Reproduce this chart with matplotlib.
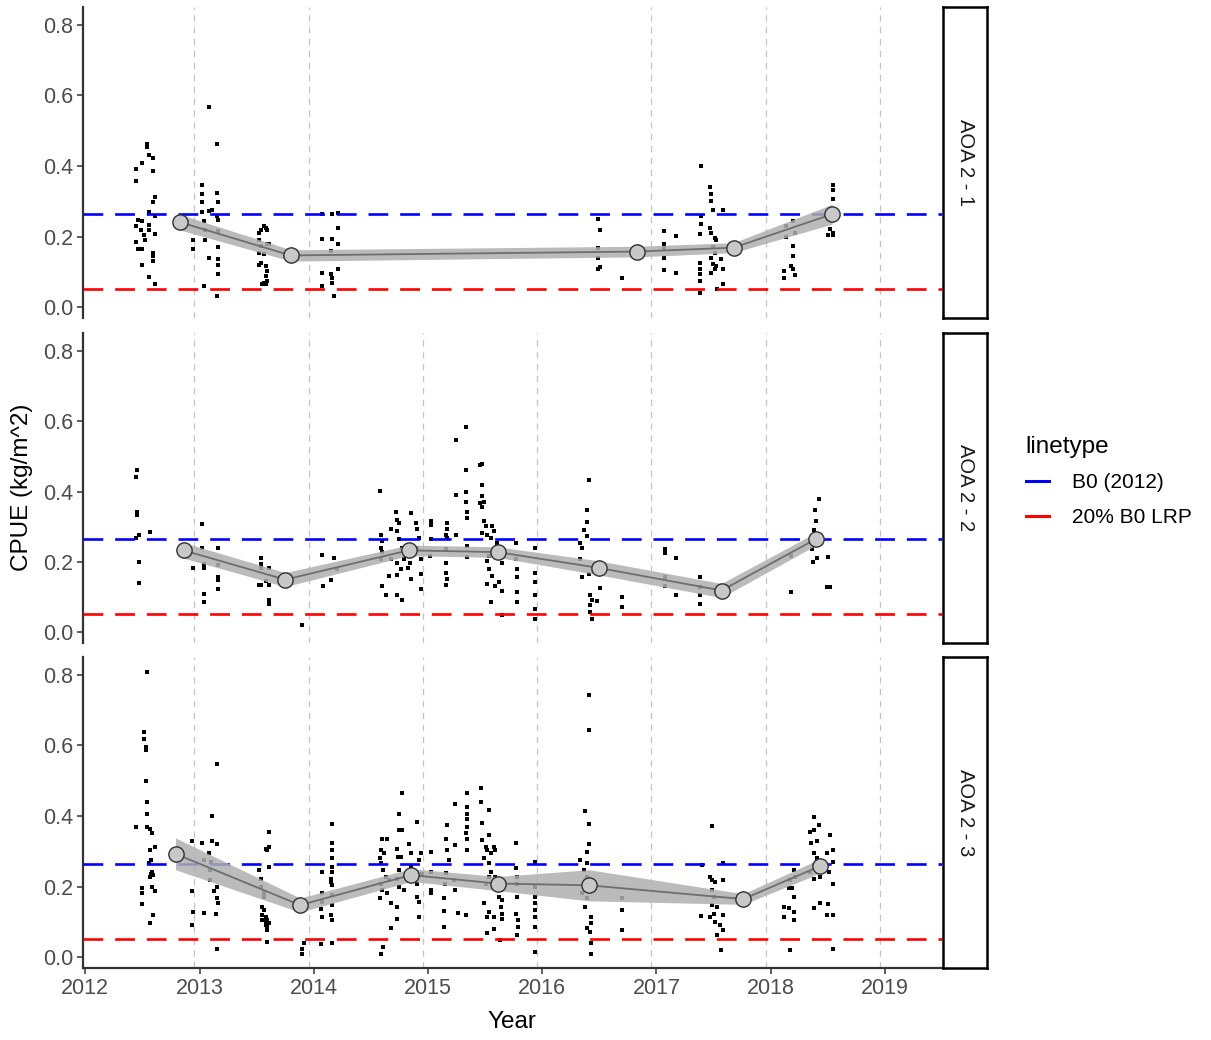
import matplotlib
matplotlib.use("Agg")
import matplotlib.pyplot as plt
from matplotlib.lines import Line2D
import numpy as np

plt.rcParams['font.family'] = ['Liberation Sans', 'DejaVu Sans']

# ---------------- data ----------------
facets = ["AOA 2 - 1", "AOA 2 - 2", "AOA 2 - 3"]
b0_value = 0.265
lrp_value = 0.053
legend_labels = ["B0 (2012)", "20% B0 LRP"]
legend_title = "linetype"
x_ticks = [2012, 2013, 2014, 2015, 2016, 2017, 2018, 2019]
y_ticks = [0.0, 0.2, 0.4, 0.6, 0.8]

# season boundaries (vertical dashed lines) per facet
vlines_21 = [2012.955, 2013.955, 2016.955, 2017.955, 2018.955]
vlines_22 = [2012.955, 2013.955, 2014.955, 2015.955, 2016.955, 2017.955, 2018.955]
vlines_23 = [2012.955, 2013.955, 2014.955, 2015.955, 2016.955, 2017.955, 2018.955]

# yearly means and ribbon half-widths
mean_x_21 = [2012.83, 2013.80, 2016.83, 2017.675, 2018.54]
mean_y_21 = [0.241, 0.147, 0.158, 0.169, 0.264]
se_21 = [0.022, 0.016, 0.015, 0.014, 0.028]

mean_x_22 = [2012.86, 2013.75, 2014.83, 2015.61, 2016.50, 2017.57, 2018.40]
mean_y_22 = [0.233, 0.150, 0.233, 0.228, 0.183, 0.119, 0.266]
se_22 = [0.022, 0.020, 0.015, 0.015, 0.020, 0.020, 0.018]

mean_x_23 = [2012.79, 2013.88, 2014.85, 2015.61, 2016.41, 2017.76, 2018.43]
mean_y_23 = [0.293, 0.148, 0.233, 0.209, 0.204, 0.165, 0.258]
se_23 = [0.045, 0.020, 0.018, 0.020, 0.044, 0.015, 0.020]

# raw CPUE observations: (date, [values])
obs_21 = [
    (2012.44, [0.392, 0.358, 0.230, 0.185]),
    (2012.46, [0.248, 0.164]),
    (2012.49, [0.220]),
    (2012.50, [0.408, 0.244, 0.164, 0.120]),
    (2012.515, [0.206]),
    (2012.52, [0.192]),
    (2012.54, [0.462, 0.455]),
    (2012.56, [0.431, 0.086, 0.220, 0.234, 0.270]),
    (2012.59, [0.422, 0.387, 0.298, 0.155, 0.145, 0.131]),
    (2012.61, [0.312, 0.258, 0.209, 0.066]),
    (2012.947, [0.192, 0.166]),
    (2013.025, [0.345, 0.321, 0.298, 0.270]),
    (2013.035, [0.244, 0.061]),
    (2013.045, [0.220, 0.192]),
    (2013.083, [0.566, 0.272, 0.141]),
    (2013.11, [0.275]),
    (2013.15, [0.462, 0.324, 0.033, 0.258]),
    (2013.16, [0.298, 0.248, 0.216, 0.172, 0.136, 0.120, 0.094]),
    (2013.52, [0.211, 0.192, 0.155, 0.120]),
    (2013.535, [0.220, 0.174, 0.127]),
    (2013.55, [0.066]),
    (2013.565, [0.230, 0.150, 0.070]),
    (2013.58, [0.225, 0.117, 0.089, 0.066]),
    (2013.594, [0.220, 0.178, 0.103, 0.075]),
    (2013.608, [0.178]),
    (2014.075, [0.263, 0.194, 0.096, 0.061]),
    (2014.148, [0.159, 0.094]),
    (2014.163, [0.194, 0.263, 0.084, 0.070]),
    (2014.177, [0.033]),
    (2014.21, [0.267, 0.225, 0.178, 0.110]),
    (2016.49, [0.250, 0.169, 0.141, 0.110]),
    (2016.51, [0.219, 0.113]),
    (2016.70, [0.082]),
    (2017.07, [0.216, 0.178, 0.169, 0.141, 0.106]),
    (2017.175, [0.202, 0.097]),
    (2017.378, [0.209, 0.127, 0.108, 0.094, 0.075, 0.042]),
    (2017.394, [0.399, 0.258, 0.237]),
    (2017.466, [0.342, 0.225]),
    (2017.478, [0.322, 0.300, 0.211, 0.141, 0.098]),
    (2017.494, [0.275, 0.172, 0.122]),
    (2017.51, [0.197, 0.155, 0.108]),
    (2017.525, [0.192, 0.117]),
    (2017.534, [0.052]),
    (2017.566, [0.138]),
    (2017.58, [0.275, 0.108, 0.066]),
    (2018.119, [0.103, 0.082]),
    (2018.135, [0.230, 0.200]),
    (2018.18, [0.117]),
    (2018.197, [0.244, 0.174, 0.145, 0.110]),
    (2018.21, [0.211, 0.091]),
    (2018.504, [0.272, 0.204]),
    (2018.52, [0.222]),
    (2018.548, [0.347, 0.331, 0.308, 0.253, 0.211, 0.206]),
]

obs_22 = [
    (2012.442, [0.442, 0.269]),
    (2012.457, [0.462, 0.341, 0.334]),
    (2012.47, [0.278, 0.200, 0.140]),
    (2012.567, [0.284]),
    (2012.947, [0.184]),
    (2013.025, [0.309, 0.240]),
    (2013.04, [0.194, 0.182, 0.109, 0.086]),
    (2013.162, [0.240, 0.191, 0.156, 0.150, 0.122]),
    (2013.52, [0.135]),
    (2013.535, [0.210, 0.184, 0.135, 0.194]),
    (2013.58, [0.147]),
    (2013.608, [0.182, 0.135, 0.091, 0.081]),
    (2013.90, [0.022]),
    (2014.075, [0.219]),
    (2014.083, [0.131]),
    (2014.148, [0.150]),
    (2014.177, [0.210]),
    (2014.206, [0.180]),
    (2014.579, [0.402]),
    (2014.585, [0.278, 0.240, 0.208]),
    (2014.60, [0.259, 0.228, 0.133]),
    (2014.629, [0.107]),
    (2014.658, [0.161]),
    (2014.673, [0.293, 0.208]),
    (2014.717, [0.341]),
    (2014.731, [0.320, 0.287, 0.198, 0.163, 0.107]),
    (2014.746, [0.311, 0.264]),
    (2014.76, [0.180]),
    (2014.775, [0.091, 0.240]),
    (2014.789, [0.208]),
    (2014.824, [0.184]),
    (2014.84, [0.198]),
    (2014.854, [0.339, 0.152]),
    (2014.892, [0.311]),
    (2014.906, [0.293, 0.240]),
    (2014.92, [0.269]),
    (2014.935, [0.208, 0.122]),
    (2014.941, [0.166]),
    (2015.02, [0.217]),
    (2015.023, [0.315, 0.306, 0.264]),
    (2015.154, [0.278, 0.236, 0.198, 0.170, 0.135]),
    (2015.169, [0.311, 0.293, 0.269, 0.152]),
    (2015.243, [0.546, 0.390, 0.278]),
    (2015.33, [0.584, 0.462, 0.400, 0.371]),
    (2015.344, [0.341, 0.325, 0.245, 0.215]),
    (2015.454, [0.474, 0.367]),
    (2015.475, [0.477, 0.418, 0.386, 0.357, 0.283]),
    (2015.49, [0.369, 0.315]),
    (2015.504, [0.301]),
    (2015.519, [0.278, 0.203, 0.138]),
    (2015.533, [0.180, 0.217]),
    (2015.548, [0.269, 0.086]),
    (2015.562, [0.301, 0.161]),
    (2015.577, [0.287, 0.231]),
    (2015.591, [0.133]),
    (2015.606, [0.254]),
    (2015.62, [0.142]),
    (2015.65, [0.198, 0.119, 0.049]),
    (2015.77, [0.254, 0.208]),
    (2015.776, [0.180]),
    (2015.78, [0.156, 0.114, 0.086]),
    (2015.935, [0.239, 0.170, 0.142, 0.105, 0.067, 0.039]),
    (2016.335, [0.254, 0.208]),
    (2016.35, [0.240, 0.156]),
    (2016.37, [0.292]),
    (2016.39, [0.313]),
    (2016.394, [0.348, 0.273]),
    (2016.408, [0.432, 0.166]),
    (2016.417, [0.105, 0.077, 0.058]),
    (2016.438, [0.091, 0.039]),
    (2016.48, [0.088]),
    (2016.504, [0.125]),
    (2016.70, [0.100, 0.072]),
    (2017.079, [0.236, 0.226, 0.156, 0.131]),
    (2017.175, [0.210, 0.107]),
    (2017.378, [0.156, 0.128, 0.105, 0.081]),
    (2018.178, [0.217, 0.116]),
    (2018.362, [0.236]),
    (2018.369, [0.269, 0.200]),
    (2018.376, [0.292]),
    (2018.391, [0.348]),
    (2018.40, [0.315]),
    (2018.405, [0.210]),
    (2018.42, [0.378, 0.254]),
    (2018.493, [0.128]),
    (2018.499, [0.215]),
    (2018.522, [0.128]),
]

obs_23 = [
    (2012.442, [0.369]),
    (2012.50, [0.195, 0.181, 0.151]),
    (2012.515, [0.638, 0.619]),
    (2012.529, [0.594, 0.588, 0.499]),
    (2012.544, [0.808, 0.440, 0.405, 0.369]),
    (2012.559, [0.266]),
    (2012.567, [0.363, 0.303, 0.228, 0.096]),
    (2012.573, [0.275, 0.237]),
    (2012.588, [0.351, 0.242, 0.200]),
    (2012.596, [0.233, 0.120]),
    (2012.608, [0.313, 0.188]),
    (2012.938, [0.330, 0.188, 0.091]),
    (2012.947, [0.129]),
    (2013.025, [0.324]),
    (2013.04, [0.275, 0.127]),
    (2013.083, [0.296]),
    (2013.09, [0.219, 0.247]),
    (2013.098, [0.270]),
    (2013.11, [0.400, 0.330]),
    (2013.127, [0.188]),
    (2013.142, [0.124]),
    (2013.15, [0.548, 0.322, 0.200, 0.167, 0.025]),
    (2013.162, [0.155]),
    (2013.52, [0.247]),
    (2013.535, [0.223, 0.200]),
    (2013.55, [0.143, 0.120, 0.106]),
    (2013.564, [0.181, 0.171, 0.134, 0.106]),
    (2013.58, [0.308, 0.115, 0.101, 0.091]),
    (2013.588, [0.077]),
    (2013.594, [0.305, 0.107, 0.087, 0.044]),
    (2013.608, [0.355, 0.311, 0.256, 0.096]),
    (2013.90, [0.025, 0.009]),
    (2013.914, [0.040]),
    (2014.066, [0.136, 0.038]),
    (2014.075, [0.242, 0.181, 0.157, 0.115]),
    (2014.148, [0.223, 0.214]),
    (2014.154, [0.120]),
    (2014.163, [0.377, 0.324, 0.303, 0.280, 0.256, 0.242, 0.204, 0.176, 0.148, 0.106, 0.040]),
    (2014.579, [0.280, 0.167]),
    (2014.585, [0.303, 0.266, 0.209]),
    (2014.59, [0.011]),
    (2014.60, [0.336, 0.190]),
    (2014.61, [0.247, 0.030]),
    (2014.614, [0.296]),
    (2014.629, [0.228]),
    (2014.644, [0.336, 0.181]),
    (2014.658, [0.219]),
    (2014.673, [0.153, 0.082]),
    (2014.731, [0.308, 0.223, 0.143, 0.110]),
    (2014.737, [0.285]),
    (2014.746, [0.405, 0.360, 0.247, 0.200]),
    (2014.76, [0.285]),
    (2014.775, [0.464, 0.360]),
    (2014.789, [0.190]),
    (2014.833, [0.322]),
    (2014.848, [0.294]),
    (2014.854, [0.256]),
    (2014.863, [0.219]),
    (2014.90, [0.383]),
    (2014.906, [0.209, 0.171]),
    (2014.92, [0.275, 0.157, 0.115]),
    (2014.935, [0.294]),
    (2014.95, [0.237]),
    (2015.023, [0.299, 0.242, 0.190, 0.181]),
    (2015.14, [0.167, 0.132, 0.087]),
    (2015.15, [0.209]),
    (2015.154, [0.334, 0.239]),
    (2015.169, [0.374, 0.303]),
    (2015.183, [0.277]),
    (2015.227, [0.219]),
    (2015.233, [0.433, 0.318]),
    (2015.24, [0.192]),
    (2015.262, [0.126]),
    (2015.33, [0.352, 0.120]),
    (2015.338, [0.464, 0.426, 0.369]),
    (2015.344, [0.407, 0.393, 0.334, 0.305]),
    (2015.466, [0.478, 0.440]),
    (2015.475, [0.381, 0.332]),
    (2015.49, [0.280, 0.153]),
    (2015.504, [0.313, 0.209]),
    (2015.519, [0.305, 0.115, 0.068]),
    (2015.533, [0.416, 0.346, 0.266, 0.228, 0.129]),
    (2015.548, [0.294, 0.242]),
    (2015.577, [0.313, 0.115, 0.079]),
    (2015.591, [0.305, 0.228, 0.198]),
    (2015.62, [0.171]),
    (2015.628, [0.049]),
    (2015.635, [0.190, 0.143]),
    (2015.65, [0.162, 0.124, 0.110]),
    (2015.77, [0.324, 0.252, 0.124]),
    (2015.776, [0.228, 0.171]),
    (2015.78, [0.209, 0.063]),
    (2015.785, [0.106, 0.087]),
    (2015.933, [0.270]),
    (2015.935, [0.153, 0.115, 0.087, 0.016]),
    (2015.941, [0.200, 0.171, 0.134]),
    (2016.335, [0.277]),
    (2016.35, [0.181]),
    (2016.364, [0.247]),
    (2016.379, [0.415, 0.143]),
    (2016.388, [0.266]),
    (2016.394, [0.299, 0.228, 0.167, 0.082]),
    (2016.408, [0.743, 0.643, 0.377, 0.322, 0.200]),
    (2016.417, [0.073]),
    (2016.423, [0.115]),
    (2016.43, [0.096, 0.040, 0.009]),
    (2016.70, [0.167, 0.134, 0.077]),
    (2017.39, [0.118]),
    (2017.40, [0.261]),
    (2017.466, [0.115]),
    (2017.472, [0.228]),
    (2017.487, [0.371, 0.219, 0.190, 0.148]),
    (2017.50, [0.124]),
    (2017.507, [0.171]),
    (2017.516, [0.214, 0.101]),
    (2017.53, [0.143, 0.063]),
    (2017.56, [0.091]),
    (2017.566, [0.021]),
    (2017.584, [0.266, 0.219, 0.120, 0.077]),
    (2018.114, [0.143, 0.115]),
    (2018.158, [0.195, 0.139]),
    (2018.172, [0.219, 0.021]),
    (2018.187, [0.195]),
    (2018.20, [0.247, 0.171, 0.129, 0.107]),
    (2018.216, [0.228]),
    (2018.348, [0.355, 0.242]),
    (2018.353, [0.324]),
    (2018.376, [0.396, 0.360, 0.294, 0.223, 0.139]),
    (2018.405, [0.330, 0.280]),
    (2018.42, [0.374]),
    (2018.435, [0.228, 0.153]),
    (2018.493, [0.294, 0.120]),
    (2018.499, [0.151]),
    (2018.508, [0.242]),
    (2018.522, [0.346]),
    (2018.55, [0.305, 0.270, 0.209, 0.120, 0.025]),
]

# ---------------- figure ----------------
W, H = 1211, 1040
fig = plt.figure(figsize=(W / 100, H / 100), dpi=100)

panel_px = [(7, 318), (333, 643), (657, 968)]
left_px, right_px = 83, 942
strip_w_px = 44

obs_all = [obs_21, obs_22, obs_23]
means_all = [(mean_x_21, mean_y_21, se_21), (mean_x_22, mean_y_22, se_22),
             (mean_x_23, mean_y_23, se_23)]
vlines_all = [vlines_21, vlines_22, vlines_23]

tick_col = '#4D4D4D'
for i in range(3):
    top, bot = panel_px[i]
    ax = fig.add_axes([left_px / W, 1 - bot / H, (right_px - left_px) / W, (bot - top) / H])
    ax.set_xlim(2011.98, 2019.5)
    ax.set_ylim(-0.03, 0.85)

    for v in vlines_all[i]:
        ax.axvline(v, color='#C4C4C4', lw=0.9, ls=(0, (5, 4.5)), zorder=0)

    xs, ys = [], []
    for d, vals in obs_all[i]:
        for v in vals:
            xs.append(d)
            ys.append(v)
    ax.scatter(xs, ys, s=7, marker='s', color='black', linewidths=0, zorder=2)

    ax.axhline(b0_value, color='#0000FF', lw=1.9, ls=(0, (7.5, 4.5)), zorder=3)
    ax.axhline(lrp_value, color='#FF0000', lw=1.9, ls=(0, (7.5, 4.5)), zorder=3)

    mx, my, se = (np.array(a) for a in means_all[i])
    ax.fill_between(mx, my - se, my + se, color='#B0B0B0', alpha=0.85, lw=0, zorder=4)
    ax.plot(mx, my, color='#6E6E6E', lw=1.3, zorder=5)
    ax.plot(mx, my, ls='none', marker='o', ms=11, mfc='#C8C8C8', mec='#303030',
            mew=1.0, zorder=6)

    for s in ['top', 'right']:
        ax.spines[s].set_visible(False)
    ax.spines['left'].set_color('#333333')
    ax.spines['left'].set_linewidth(1.6)
    ax.set_yticks(y_ticks)
    ax.set_yticklabels([f"{t:.1f}" for t in y_ticks])
    ax.tick_params(axis='y', length=4, width=1.1, color='#333333', labelsize=15.5,
                   labelcolor=tick_col, pad=3)
    ax.set_xticks(x_ticks)
    if i < 2:
        ax.spines['bottom'].set_visible(False)
        ax.tick_params(axis='x', length=0, labelbottom=False)
    else:
        ax.spines['bottom'].set_color('#333333')
        ax.spines['bottom'].set_linewidth(1.6)
        ax.set_xticklabels([str(t) for t in x_ticks])
        ax.tick_params(axis='x', length=4, width=1.1, color='#333333', labelsize=15.5,
                       labelcolor=tick_col, pad=3)

    # facet strip
    sax = fig.add_axes([(right_px + 1) / W, 1 - bot / H, strip_w_px / W, (bot - top) / H])
    sax.set_xticks([])
    sax.set_yticks([])
    for s in sax.spines.values():
        s.set_linewidth(1.8)
        s.set_color('black')
    sax.text(0.5, 0.5, facets[i], rotation=-90, ha='center', va='center',
             fontsize=14.5, color='#1A1A1A', transform=sax.transAxes)

# axis labels
fig.text(22 / W, 1 - 487 / H, "CPUE (kg/m^2)", rotation=90, ha='center', va='center',
         fontsize=17.5, color='black')
fig.text(512 / W, 1 - 1022 / H, "Year", ha='center', va='center', fontsize=17.5,
         color='black')

# legend
handles = [Line2D([], [], color='#0000FF', lw=2.2), Line2D([], [], color='#FF0000', lw=2.2)]
leg = fig.legend(handles, legend_labels, title=legend_title, loc='upper left',
                 bbox_to_anchor=(1007 / W, 1 - 417 / H), frameon=False,
                 fontsize=15, title_fontsize=17.5, handlelength=1.1,
                 handletextpad=1.1, labelspacing=0.75)
leg._legend_box.align = 'left'

fig.savefig('out.png', dpi=100)
